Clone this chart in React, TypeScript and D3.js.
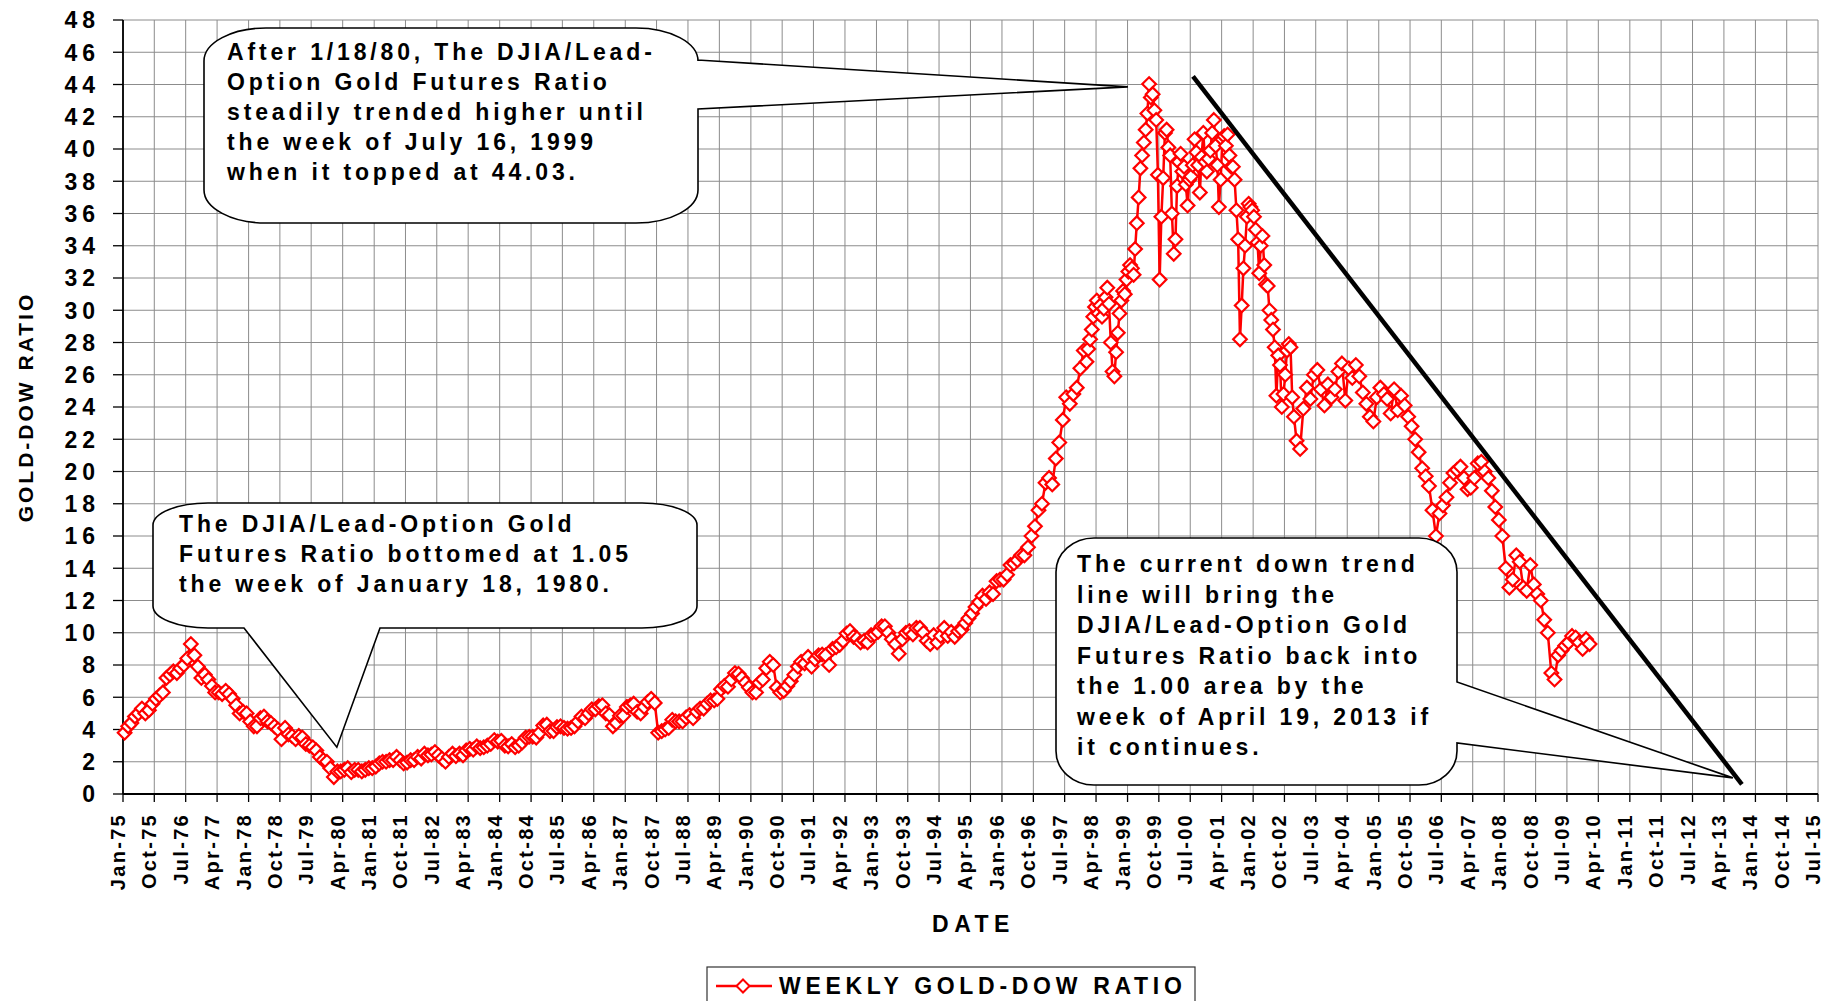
import React, { useEffect } from "react";
import * as d3 from "d3";

const WIDTH = 1824;
const HEIGHT = 1001;
const FONT = "'Liberation Sans', Arial, Helvetica, sans-serif";

// ---- data (DJIA / gold ratio) ----
// monthly, Jan 1975 .. Dec 1979
const ratio1975to1979 = [
  3.8, 4.2, 4.4, 4.8, 5.0, 5.3, 5.0, 5.2, 5.6, 5.9, 6.1, 6.3,
  7.2, 7.4, 7.6, 7.5, 7.8, 8.0, 8.4, 9.3, 8.6, 7.9, 7.2, 7.4,
  7.1, 6.7, 6.3, 6.3, 6.2, 6.4, 6.2, 5.9, 5.5, 5.0, 5.1, 5.0,
  4.5, 4.2, 4.2, 4.7, 4.8, 4.5, 4.4, 4.2, 4.0, 3.4, 4.1, 3.7,
  3.6, 3.4, 3.6, 3.5, 3.1, 3.0, 2.9, 2.7, 2.3, 2.1, 2.0, 1.6,
];
// monthly, Jan 1980 .. Dec 1984
const ratio1980to1984 = [
  1.05, 1.4, 1.4, 1.5, 1.6, 1.35, 1.5, 1.5, 1.4, 1.5, 1.6, 1.6,
  1.7, 1.9, 2.0, 2.0, 2.1, 2.1, 2.3, 2.1, 1.9, 1.95, 2.1, 2.1,
  2.3, 2.2, 2.5, 2.4, 2.45, 2.6, 2.4, 2.2, 2.0, 2.3, 2.5, 2.35,
  2.5, 2.4, 2.7, 2.8, 2.75, 2.95, 2.85, 2.9, 3.0, 3.1, 3.35, 3.25,
  3.3, 3.0, 2.95, 3.1, 2.9, 3.0, 3.2, 3.5, 3.55, 3.55, 3.5, 3.8,
];
// monthly, Jan 1985 .. Dec 1989
const ratio1985to1989 = [
  4.25, 4.3, 3.9, 3.9, 4.15, 4.2, 4.1, 4.05, 4.1, 4.2, 4.5, 4.8,
  4.7, 5.0, 5.25, 5.25, 5.45, 5.5, 5.0, 4.9, 4.2, 4.4, 4.85, 4.85,
  5.4, 5.5, 5.6, 5.1, 5.0, 5.4, 5.7, 5.9, 5.65, 3.8, 3.9, 4.0,
  4.1, 4.6, 4.5, 4.5, 4.5, 4.75, 4.9, 4.7, 5.1, 5.3, 5.3, 5.6,
  5.8, 5.8, 5.9, 6.5, 6.7, 6.65, 7.1, 7.5, 7.45, 7.2, 6.9, 6.6,
];
// monthly, Jan 1990 .. Dec 1994
const ratio1990to1994 = [
  6.3, 6.3, 6.9, 7.1, 7.8, 8.2, 8.0, 6.6, 6.3, 6.4, 6.7, 7.0,
  7.4, 7.9, 8.2, 8.1, 8.5, 7.9, 8.35, 8.6, 8.65, 8.6, 8.0, 9.0,
  9.1, 9.25, 9.5, 9.95, 10.1, 9.75, 9.65, 9.4, 9.5, 9.4, 9.85, 9.9,
  10.05, 10.4, 10.4, 10.0, 9.6, 9.3, 8.7, 9.6, 10.0, 10.1, 9.9, 10.3,
  10.3, 10.0, 9.5, 9.3, 9.85, 9.4, 9.8, 10.3, 9.8, 10.05, 9.75, 10.1,
];
// monthly, Jan 1995 .. Dec 1997
const ratio1995to1997 = [
  10.2, 10.6, 10.9, 11.2, 11.6, 11.9, 12.3, 12.1, 12.5, 12.4, 13.2, 13.3,
  13.3, 13.6, 14.2, 14.3, 14.5, 14.8, 14.8, 15.3, 16.0, 16.6, 17.6, 18.0,
  19.3, 19.6, 19.2, 20.8, 21.8, 23.2, 24.6, 24.2, 24.8, 25.2, 26.4, 27.5,
];
// twice a month, Jan 1998 .. Dec 2002
const ratio1998to2002 = [
  26.8, 27.6, 28.2, 28.8, 29.6, 30.2, 30.6, 29.8, 30.3, 29.6, 30.1, 30.8,
  31.4, 30.4, 28.0, 26.2, 25.9, 27.4, 28.6, 29.8, 30.6, 31.2, 31.0, 31.9,
  32.4, 32.8, 32.6, 32.2, 33.8, 35.4, 37.0, 38.8, 39.6, 40.4, 41.2, 42.2,
  44.03, 43.2, 43.4, 42.4, 41.8, 38.4, 31.9, 35.8, 38.2, 41.0, 41.2, 40.1,
  39.6, 36.0, 33.5, 34.4, 37.7, 39.2, 39.7, 38.6, 38.9, 37.8, 36.5, 38.1,
  38.3, 39.0, 40.6, 39.8, 39.0, 37.3, 39.5, 41.0, 39.2, 38.6, 39.4, 39.9,
  41.0, 41.8, 40.2, 39.0, 36.4, 38.1, 40.6, 40.8, 40.2, 40.9, 39.6, 38.9,
  38.9, 38.1, 36.2, 34.4, 28.2, 30.3, 32.6, 34.0, 35.8, 36.6, 36.4, 36.2,
  35.8, 35.0, 34.2, 32.3, 34.0, 34.6, 32.8, 31.6, 31.5, 30.0, 29.4, 28.8,
  27.7, 24.7, 27.2, 26.6, 24.0, 24.8, 26.0, 27.5, 27.9, 27.7, 24.6, 23.4,
];
// monthly, Jan 2003 .. Jan 2010
const ratio2003to2010 = [
  21.9, 21.4, 23.9, 25.2, 24.5, 26.0, 26.3, 25.1, 24.1, 25.4, 24.6, 25.1,
  26.2, 26.7, 24.4, 26.4, 25.8, 26.6, 25.9, 24.9, 24.2, 23.4, 23.1, 24.6,
  25.2, 24.8, 24.5, 23.6, 25.1, 23.8, 24.7, 24.1, 23.4, 22.8, 22.0, 21.2,
  20.2, 19.7, 19.1, 17.6, 16.0, 17.4, 17.9, 18.4, 19.3, 19.9, 20.1, 20.3,
  19.6, 18.9, 19.0, 19.6, 20.5, 20.6, 20.0, 19.6, 18.8, 17.8, 17.0, 16.0,
  14.0, 12.8, 13.3, 14.8, 14.4, 12.8, 12.6, 14.2, 13.0, 12.4, 12.0, 10.8,
  10.0, 7.5, 7.1, 8.6, 8.9, 9.2, 9.4, 9.8, 9.7, 9.4, 9.0, 9.6,
  9.3,
];

// down trend line (start, end)
const trendDates = ["2000-07-25", "2013-09-05"];
const trendValues = [44.5, 0.6];

const yTickValues = [0, 2, 4, 6, 8, 10, 12, 14, 16, 18, 20, 22, 24, 26, 28, 30, 32, 34, 36, 38, 40, 42, 44, 46, 48];
const xTickLabels = [
  "Jan-75", "Oct-75", "Jul-76", "Apr-77", "Jan-78", "Oct-78", "Jul-79", "Apr-80", "Jan-81", "Oct-81",
  "Jul-82", "Apr-83", "Jan-84", "Oct-84", "Jul-85", "Apr-86", "Jan-87", "Oct-87", "Jul-88", "Apr-89",
  "Jan-90", "Oct-90", "Jul-91", "Apr-92", "Jan-93", "Oct-93", "Jul-94", "Apr-95", "Jan-96", "Oct-96",
  "Jul-97", "Apr-98", "Jan-99", "Oct-99", "Jul-00", "Apr-01", "Jan-02", "Oct-02", "Jul-03", "Apr-04",
  "Jan-05", "Oct-05", "Jul-06", "Apr-07", "Jan-08", "Oct-08", "Jul-09", "Apr-10", "Jan-11", "Oct-11",
  "Jul-12", "Apr-13", "Jan-14", "Oct-14", "Jul-15",
];

const callout1Lines = [
  "After 1/18/80, The DJIA/Lead-",
  "Option Gold Futures Ratio",
  "steadily trended higher until",
  "the week of July 16, 1999",
  "when it topped at 44.03.",
];
const callout2Lines = [
  "The DJIA/Lead-Option Gold",
  "Futures Ratio bottomed at 1.05",
  "the week of January 18, 1980.",
];
const callout3Lines = [
  "The current down trend",
  "line will bring the",
  "DJIA/Lead-Option Gold",
  "Futures Ratio back into",
  "the 1.00 area by the",
  "week of April 19, 2013 if",
  "it continues.",
];
// where each callout points (date, value)
const callout1Tip = { date: "1999-01-04", value: 43.85 };
const callout2Tip = { date: "1980-02-10", value: 2.9 };
const callout3Tip = { date: "2013-06-18", value: 1.0 };

const seriesName = "WEEKLY GOLD-DOW RATIO";

// ---- layout ----
const PLOT = { left: 123, right: 1818, top: 20, bottom: 794 };

const parseLabel = d3.timeParse("%b-%y");
const parseDay = d3.timeParse("%Y-%m-%d");

function buildSeries() {
  const monthly = [
    ...ratio1975to1979,
    ...ratio1980to1984,
    ...ratio1985to1989,
    ...ratio1990to1994,
    ...ratio1995to1997,
  ];
  const pts: { date: Date; value: number }[] = [];
  monthly.forEach((v, i) => pts.push({ date: new Date(1975, i, 15), value: v }));
  ratio1998to2002.forEach((v, i) =>
    pts.push({ date: new Date(1998, Math.floor(i / 2), i % 2 ? 23 : 8), value: v })
  );
  ratio2003to2010.forEach((v, i) => pts.push({ date: new Date(2003, i, 15), value: v }));
  return pts;
}

function calloutPath(
  x0: number, y0: number, x1: number, y1: number, rx: number, ry: number,
  wedge: { side: "right" | "bottom"; a: number; b: number; tip: [number, number] }
) {
  const [tx, ty] = wedge.tip;
  let p = `M${x0 + rx},${y0} H${x1 - rx} A${rx},${ry} 0 0 1 ${x1},${y0 + ry}`;
  if (wedge.side === "right") {
    p += ` V${wedge.a} L${tx},${ty} L${x1},${wedge.b}`;
  }
  p += ` V${y1 - ry} A${rx},${ry} 0 0 1 ${x1 - rx},${y1}`;
  if (wedge.side === "bottom") {
    p += ` H${wedge.b} L${tx},${ty} L${wedge.a},${y1}`;
  }
  p += ` H${x0 + rx} A${rx},${ry} 0 0 1 ${x0},${y1 - ry} V${y0 + ry} A${rx},${ry} 0 0 1 ${x0 + rx},${y0} Z`;
  return p;
}

const diamond = (r: number) => `M0,${-r} L${r},0 L0,${r} L${-r},0 Z`;

export default function App() {
  useEffect(() => {
    document.body.style.margin = "0";
    document.body.style.overflow = "hidden";
  }, []);

  const tickDates = xTickLabels.map((l) => parseLabel(l) as Date);
  const x = d3
    .scaleTime()
    .domain([tickDates[0], tickDates[tickDates.length - 1]])
    .range([PLOT.left, PLOT.right]);
  const y = d3.scaleLinear().domain([0, 48]).range([PLOT.bottom, PLOT.top]);

  const data = buildSeries();
  const line = d3
    .line<{ date: Date; value: number }>()
    .x((d) => x(d.date))
    .y((d) => y(d.value));

  const trend = trendDates.map((d, i) => ({ date: parseDay(d) as Date, value: trendValues[i] }));

  const tip = (t: { date: string; value: number }): [number, number] => [
    x(parseDay(t.date) as Date),
    y(t.value),
  ];

  const c1 = calloutPath(204, 28, 698, 223, 62, 33, { side: "right", a: 60, b: 109, tip: tip(callout1Tip) });
  const c2 = calloutPath(153, 503, 697, 628, 55, 22, { side: "bottom", a: 244, b: 380, tip: tip(callout2Tip) });
  const c3 = calloutPath(1056, 538, 1457, 785, 38, 34, { side: "right", a: 682, b: 743, tip: tip(callout3Tip) });

  const textStyle = { fontFamily: FONT, fontWeight: 700 as const };
  const calloutText = (lines: string[], x0: number, y0: number, dy: number) => (
    <text style={textStyle} fontSize={23} letterSpacing={3.85} fill="#000">
      {lines.map((l, i) => (
        <tspan key={i} x={x0} y={y0 + i * dy}>
          {l}
        </tspan>
      ))}
    </text>
  );

  return (
    <svg
      width={WIDTH}
      height={HEIGHT}
      viewBox={`0 0 ${WIDTH} ${HEIGHT}`}
      style={{ display: "block", background: "#fff" }}
    >
      <rect x={0} y={0} width={WIDTH} height={HEIGHT} fill="#fff" />
      {/* grid */}
      <g stroke="#8c8c8c" strokeWidth={1}>
        {yTickValues.map((v) => (
          <line key={"h" + v} x1={PLOT.left} x2={PLOT.right} y1={y(v)} y2={y(v)} />
        ))}
        {tickDates.map((d, i) => (
          <line key={"v" + i} x1={x(d)} x2={x(d)} y1={PLOT.top} y2={PLOT.bottom} />
        ))}
      </g>
      {/* axes */}
      <g stroke="#000" strokeWidth={1.8}>
        <line x1={PLOT.left} x2={PLOT.left} y1={PLOT.top} y2={PLOT.bottom} />
        <line x1={PLOT.left} x2={PLOT.right} y1={PLOT.bottom} y2={PLOT.bottom} />
      </g>
      <g stroke="#000" strokeWidth={1.3}>
        {yTickValues.map((v) => (
          <line key={"yt" + v} x1={PLOT.left - 10} x2={PLOT.left} y1={y(v)} y2={y(v)} />
        ))}
        {tickDates.map((d, i) => (
          <line key={"xt" + i} x1={x(d)} x2={x(d)} y1={PLOT.bottom} y2={PLOT.bottom + 8} />
        ))}
      </g>
      {/* y tick labels */}
      <g style={textStyle} fontSize={23} letterSpacing={5} textAnchor="end" fill="#000">
        {yTickValues.map((v) => (
          <text key={"yl" + v} x={100} y={y(v)} dy="0.36em">
            {v}
          </text>
        ))}
      </g>
      {/* x tick labels */}
      <g style={textStyle} fontSize={20} letterSpacing={2.3} textAnchor="end" fill="#000">
        {tickDates.map((d, i) => (
          <text key={"xl" + i} transform={`translate(${x(d) + 2},${813}) rotate(-90)`}>
            {xTickLabels[i]}
          </text>
        ))}
      </g>
      {/* axis titles */}
      <text
        style={textStyle}
        fontSize={21}
        letterSpacing={3}
        textAnchor="middle"
        transform={`translate(33,${(PLOT.top + PLOT.bottom) / 2}) rotate(-90)`}
      >
        GOLD-DOW RATIO
      </text>
      <text
        style={textStyle}
        fontSize={23}
        letterSpacing={5.5}
        textAnchor="middle"
        x={(PLOT.left + PLOT.right) / 2 + 3}
        y={932}
      >
        DATE
      </text>
      {/* data */}
      <path d={line(data) || ""} fill="none" stroke="#ff0000" strokeWidth={2.5} />
      <g fill="#fff" stroke="#ff0000" strokeWidth={2.2}>
        {data.map((d, i) => (
          <path key={i} d={diamond(6.8)} transform={`translate(${x(d.date)},${y(d.value)})`} />
        ))}
      </g>
      {/* trend line */}
      <line
        x1={x(trend[0].date)}
        y1={y(trend[0].value)}
        x2={x(trend[1].date)}
        y2={y(trend[1].value)}
        stroke="#000"
        strokeWidth={4.5}
      />
      {/* callouts */}
      <g fill="#fff" stroke="#000" strokeWidth={1.6}>
        <path d={c1} />
        <path d={c2} />
        <path d={c3} />
      </g>
      {calloutText(callout1Lines, 227, 60, 30)}
      {calloutText(callout2Lines, 179, 532, 30)}
      {calloutText(callout3Lines, 1077, 572, 30.5)}
      {/* legend */}
      <rect x={707} y={967} width={488} height={60} fill="#fff" stroke="#333" strokeWidth={1.2} />
      <line x1={716} x2={772} y1={986} y2={986} stroke="#ff0000" strokeWidth={2.5} />
      <path d={diamond(6.5)} transform="translate(743,986)" fill="#fff" stroke="#ff0000" strokeWidth={2} />
      <text style={textStyle} fontSize={23} letterSpacing={4.7} x={779} y={994}>
        {seriesName}
      </text>
    </svg>
  );
}
